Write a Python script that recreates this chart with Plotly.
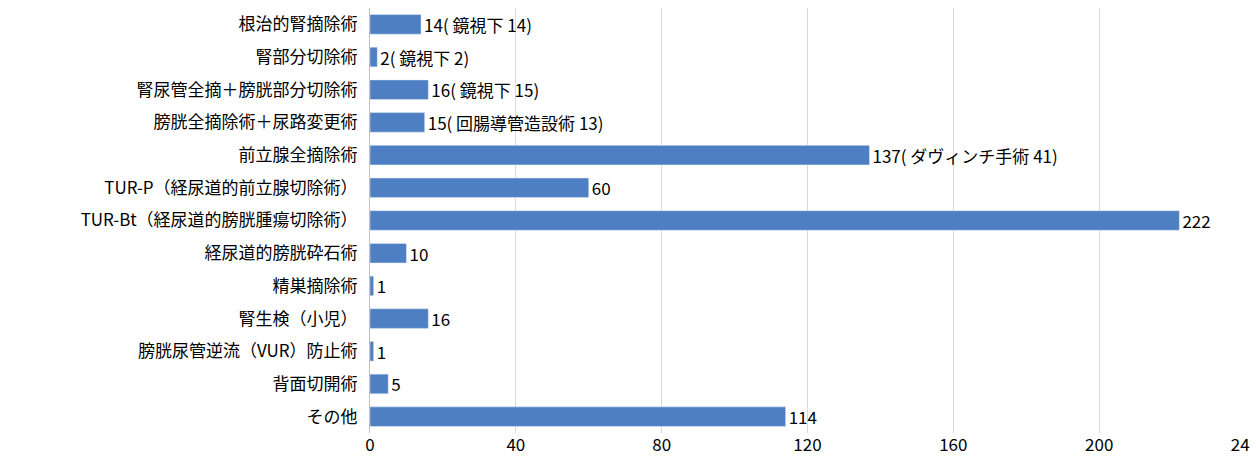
import plotly.graph_objects as go

categories = ["根治的腎摘除術", "腎部分切除術", "腎尿管全摘＋膀胱部分切除術", "膀胱全摘除術＋尿路変更術",
              "前立腺全摘除術", "TUR-P（経尿道的前立腺切除術）", "TUR-Bt（経尿道的膀胱腫瘍切除術）",
              "経尿道的膀胱砕石術", "精巣摘除術", "腎生検（小児）", "膀胱尿管逆流（VUR）防止術",
              "背面切開術", "その他"]
values = [14, 2, 16, 15, 137, 60, 222, 10, 1, 16, 1, 5, 114]
labels = ["14( 鏡視下 14)", "2( 鏡視下 2)", "16( 鏡視下 15)", "15( 回腸導管造設術 13)",
          "137( ダヴィンチ手術 41)", "60", "222", "10", "1", "16", "1", "5", "114"]

fig = go.Figure(go.Bar(
    y=categories, x=values, orientation="h", text=labels, textposition="outside",
    constraintext="none", cliponaxis=False, marker_color="#4f7fc3", width=0.6,
    textfont=dict(size=17, color="#000000"),
))
fig.update_layout(
    width=1258, height=467, plot_bgcolor="white", paper_bgcolor="white",
    margin=dict(l=362, r=21, t=0, b=42),
    font=dict(family="Noto Sans CJK JP", size=17, color="#000000"),
    showlegend=False,
)
fig.update_xaxes(range=[0, 240], dtick=40, showgrid=True, gridcolor="#d9d9d9",
                 zeroline=False, ticks="", tickfont=dict(size=17), automargin=False)
fig.update_yaxes(autorange="reversed", showline=True, linecolor="#bfbfbf", ticks="",
                 ticklabelstandoff=8, tickfont=dict(size=17), automargin=False)
fig.write_html("out.html")
